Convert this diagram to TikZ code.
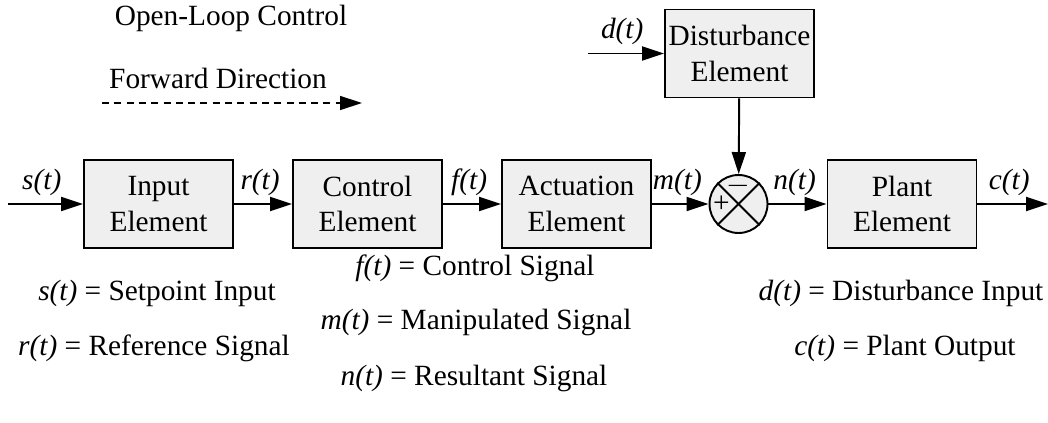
\documentclass[tikz,border=0pt]{standalone}
\usepackage{fontspec}
\setmainfont{Liberation Serif}
\usepackage{tikz}
\usetikzlibrary{arrows.meta}

\definecolor{boxgray}{HTML}{EFEFEF}

\begin{document}
\begin{tikzpicture}[
    font=\fontsize{16.7pt}{20pt}\selectfont,
    block/.style={draw=black,line width=1.1pt,fill=boxgray,align=center,
      minimum width=2.98cm,minimum height=1.76cm,inner sep=0pt},
    signal/.style={line width=1.1pt,-{Triangle[length=0.44cm,width=0.28cm]}},
    siglabel/.style={above=1pt,pos=0.45}
  ]

    \useasboundingbox (0,0) rectangle (20.96,8.46);

    % titles
    \node (title) at (4.62,8.1) {Open-Loop Control};
    \node (fwd) at (4.36,6.9) {Forward Direction};
    \coordinate (fwdA) at (2.04,6.4);
    \coordinate (fwdB) at (7.24,6.4);
    \draw[line width=0.8pt,dash pattern=on 4pt off 3pt,
      -{Triangle[length=0.44cm,width=0.28cm]}] (fwdA) -- (fwdB);

    % forward path
    \coordinate (sin) at (0.16,4.38);
    \node[block] (input) at (3.17,4.38) {Input\\Element};
    \node[block] (control) at (7.35,4.38) {Control\\Element};
    \node[block] (actuation) at (11.53,4.38) {Actuation\\Element};
    \node[draw=black,line width=1.1pt,fill=boxgray,circle,
      minimum size=1.16cm,inner sep=0pt] (sum) at (14.77,4.38) {};
    \node[block] (plant) at (18.04,4.38) {Plant\\Element};
    \coordinate (cout) at (20.96,4.38);

    \draw[line width=1.1pt] (sum.north west) -- (sum.south east);
    \draw[line width=1.1pt] (sum.south west) -- (sum.north east);
    \node[inner sep=0pt] (plus) at ([xshift=-0.34cm]sum.center) {+};
    \node[inner sep=0pt] (minus) at ([yshift=0.36cm]sum.center) {$-$};

    % disturbance
    \node[block] (dist) at (14.79,7.39) {Disturbance\\Element};
    \coordinate (din) at (11.76,7.39);

    \draw[signal] (sin) -- node[siglabel] (slab) {\textit{s(t)}} (input);
    \draw[signal] (input) -- node[siglabel] (rlab) {\textit{r(t)}} (control);
    \draw[signal] (control) -- node[siglabel] (flab) {\textit{f(t)}} (actuation);
    \draw[signal] (actuation) -- node[siglabel] (mlab) {\textit{m(t)}} (sum);
    \draw[signal] (sum) -- node[siglabel] (nlab) {\textit{n(t)}} (plant);
    \draw[signal] (plant) -- node[siglabel] (clab) {\textit{c(t)}} (cout);
    \draw[signal] (din) -- node[siglabel] (dlab) {\textit{d(t)}} (dist);
    \draw[signal] (dist) -- (sum);

    % legend
    \node (sdef) at (3.14,2.6) {\textit{s(t)} = Setpoint Input};
    \node (rdef) at (3.08,1.5) {\textit{r(t)} = Reference Signal};
    \node (fdef) at (9.5,3.1) {\textit{f(t)} = Control Signal};
    \node (mdef) at (9.52,2.02) {\textit{m(t)} = Manipulated Signal};
    \node (ndef) at (9.48,0.9) {\textit{n(t)} = Resultant Signal};
    \node (ddef) at (18.02,2.6) {\textit{d(t)} = Disturbance Input};
    \node (cdef) at (18.1,1.5) {\textit{c(t)} = Plant Output};

  \end{tikzpicture}
\end{document}
